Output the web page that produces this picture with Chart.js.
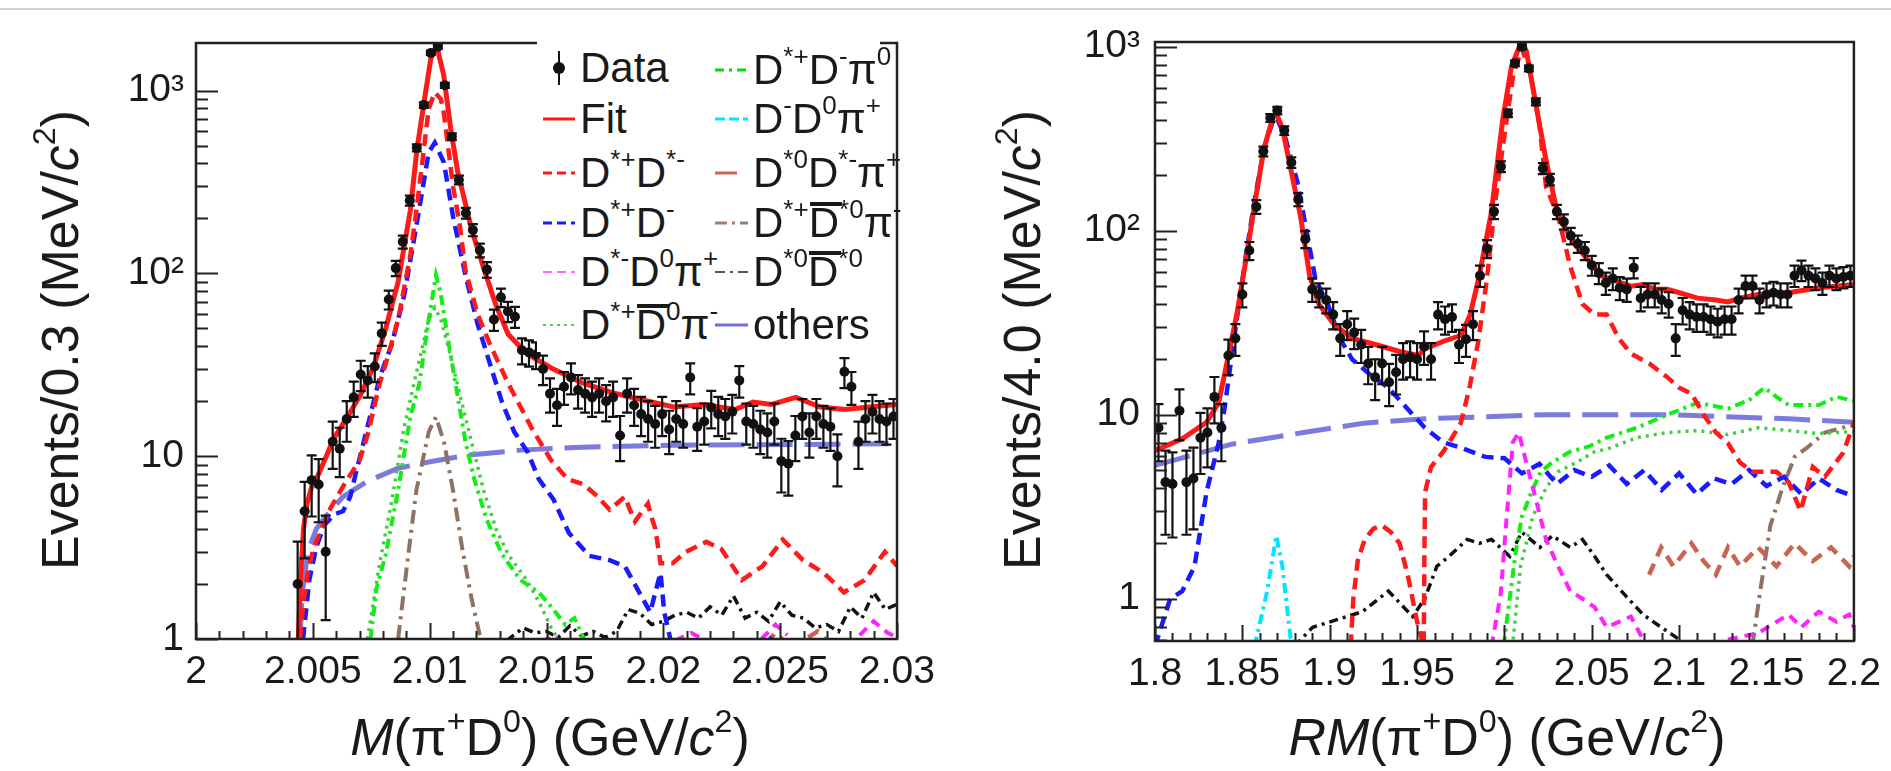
<!DOCTYPE html>
<html>
<head>
<meta charset="utf-8">
<title>pi+ D0 mass spectra</title>
<script src="https://cdn.jsdelivr.net/npm/chart.js@4.4.1/dist/chart.umd.min.js"></script>
<style>
  html, body { margin: 0; padding: 0; background: #fff; }
  body { position: relative; width: 1891px; height: 771px; overflow: hidden;
         font-family: "Liberation Sans", Arial, Helvetica, sans-serif; color: #1a1a1a; }
  canvas { position: absolute; top: 0; }
  #massChart { left: 0; }
  #recoilChart { left: 945px; }
  .rule { position: absolute; left: 0; top: 8px; width: 1891px; height: 2px; background: #d0d0d0; }
  .title { position: absolute; font-size: 52px; white-space: nowrap; line-height: 1; }
  .xtitle { transform: translate(-50%, -50%); }
  .ytitle { transform: translate(-50%, -50%) rotate(-90deg); }
  sup { font-size: 0.62em; line-height: 0; vertical-align: 0.72em; }
  #legend { position: absolute; left: 537px; top: 34px; width: 343px; height: 318px; background: #fff; }
  #legend svg { position: absolute; left: 0; top: 0; }
  .entry { position: absolute; font-size: 42px; line-height: 1; white-space: nowrap; transform: translateY(-50%); }
  .bar { position: relative; }
  .bar::before { content: ""; position: absolute; left: 0.02em; right: -0.06em; top: 0.06em; height: 0.1em; background: #1a1a1a; }
</style>
</head>
<body>
<div class="rule"></div>
<canvas id="massChart" width="945" height="771"></canvas>
<canvas id="recoilChart" width="946" height="771"></canvas>

<div id="legend">
  <svg width="343" height="318">
    <line x1="22" y1="17" x2="22" y2="51" stroke="#111" stroke-width="2"/>
    <circle cx="22" cy="34" r="6" fill="#111"/>
    <line x1="6" y1="85" x2="38" y2="85" stroke="#ff1a1a" stroke-width="3"/>
    <line x1="6" y1="139" x2="38" y2="139" stroke="#ff1a1a" stroke-width="3" stroke-dasharray="9 5"/>
    <line x1="6" y1="189" x2="38" y2="189" stroke="#1a1aff" stroke-width="3" stroke-dasharray="9 5"/>
    <line x1="6" y1="238" x2="38" y2="238" stroke="#ff66ff" stroke-width="2" stroke-dasharray="9 5"/>
    <line x1="6" y1="291" x2="38" y2="291" stroke="#55cc55" stroke-width="2" stroke-dasharray="3 4"/>
    <line x1="178" y1="36" x2="211" y2="36" stroke="#00dd00" stroke-width="3" stroke-dasharray="9 5 3 5"/>
    <line x1="178" y1="85" x2="211" y2="85" stroke="#00e5ff" stroke-width="3" stroke-dasharray="10 4"/>
    <line x1="178" y1="139" x2="200" y2="139" stroke="#c8644f" stroke-width="3"/>
    <line x1="178" y1="189" x2="211" y2="189" stroke="#9b7f6e" stroke-width="3" stroke-dasharray="12 5 3 5"/>
    <line x1="178" y1="238" x2="211" y2="238" stroke="#555" stroke-width="2" stroke-dasharray="10 5 3 5"/>
    <line x1="178" y1="291" x2="211" y2="291" stroke="#6f6fdc" stroke-width="3"/>
  </svg>
  <div class="entry" style="left:43px;top:34px">Data</div>
  <div class="entry" style="left:43px;top:85px">Fit</div>
  <div class="entry" style="left:43px;top:139px">D<sup>*+</sup>D<sup>*-</sup></div>
  <div class="entry" style="left:43px;top:189px">D<sup>*+</sup>D<sup>-</sup></div>
  <div class="entry" style="left:43px;top:238px">D<sup>*-</sup>D<sup>0</sup>π<sup>+</sup></div>
  <div class="entry" style="left:43px;top:291px">D<sup>*+</sup><span class="bar">D</span><sup>0</sup>π<sup>-</sup></div>
  <div class="entry" style="left:216px;top:36px">D<sup>*+</sup>D<sup>-</sup>π<sup>0</sup></div>
  <div class="entry" style="left:216px;top:85px">D<sup>-</sup>D<sup>0</sup>π<sup>+</sup></div>
  <div class="entry" style="left:216px;top:139px">D<sup>*0</sup>D<sup>*-</sup>π<sup>+</sup></div>
  <div class="entry" style="left:216px;top:189px">D<sup>*+</sup><span class="bar">D</span><sup>*0</sup>π<sup>-</sup></div>
  <div class="entry" style="left:216px;top:238px">D<sup>*0</sup><span class="bar">D</span><sup>*0</sup></div>
  <div class="entry" style="left:216px;top:291px">others</div>
</div>

<div class="title xtitle" style="left:550px;top:737px"><i>M</i>(π<sup>+</sup>D<sup>0</sup>) (GeV/<i>c</i><sup>2</sup>)</div>
<div class="title xtitle" style="left:1507px;top:737px"><i>RM</i>(π<sup>+</sup>D<sup>0</sup>) (GeV/<i>c</i><sup>2</sup>)</div>
<div class="title ytitle" style="left:60px;top:340px">Events/0.3 (MeV/<i>c</i><sup>2</sup>)</div>
<div class="title ytitle" style="left:1022px;top:340px">Events/4.0 (MeV/<i>c</i><sup>2</sup>)</div>

<script>
// ---------- left: M(pi+ D0), bins of 0.3 MeV ----------
const massBinStart = 2.00435;
const massBinWidth = 0.0003;
const massCounts = [
  2, 5, 7.4, 7, 3, 12, 11, 16, 21, 28,
  26, 31, 47, 72, 107, 149, 251, 487, 834, 1610,
  1740, 1070, 560, 325, 214, 173, 134, 105, 56, 74,
  62, 58, 38, 37, 36, 30, 22, 19, 24, 27,
  23, 22, 21, 22, 20, 21, 13, 22, 19, 17,
  16, 15, 17, 14, 16, 15, 27, 14.5, 15.5, 18.5,
  17, 16.5, 17.5, 26, 15.5, 15, 14, 13.5, 15.5, 9.4,
  9.1, 13, 16.5, 13.5, 16.5, 15, 14.5, 10, 29, 24,
  12, 16, 17.5, 16, 15.5, 16.5
];
const massXTicks = [2, 2.005, 2.01, 2.015, 2.02, 2.025, 2.03];
const massXLabels = ["2", "2.005", "2.01", "2.015", "2.02", "2.025", "2.03"];

const massFit = [[2.00438,1],[2.00448,2.2],[2.0046,4],[2.00475,5.5],[2.00495,6.8],[2.00525,8],[2.0059,12.5],[2.00655,17],[2.00707,22],[2.0076,31],[2.00812,50],[2.00865,90],[2.00917,220],[2.00945,470],[2.00975,850],[2.01005,1500],[2.0103,1760],[2.0106,1220],[2.0109,620],[2.0112,360],[2.0115,250],[2.01179,175],[2.01231,107],[2.01284,67],[2.01336,46.5],[2.01415,36.5],[2.0152,30.4],[2.0165,25.3],[2.01781,22.3],[2.01912,20.3],[2.02044,18.6],[2.02174,19.2],[2.02306,18],[2.02384,19.8],[2.02463,19.2],[2.02567,21],[2.02672,18.6],[2.02777,18],[2.02882,18.6],[2.03,19.2]];
const massDstDst = [[2.00445,1],[2.0046,1.6],[2.0048,2.4],[2.00505,3.2],[2.0053,3.8],[2.00568,5],[2.00634,7],[2.007,9.5],[2.00734,13],[2.0076,18],[2.00786,25],[2.00812,32],[2.00838,42],[2.00865,56],[2.00917,125],[2.00943,220],[2.0097,420],[2.00996,800],[2.01022,980],[2.01048,900],[2.01061,750],[2.0108,480],[2.011,300],[2.0113,180],[2.01153,104],[2.01205,60],[2.01258,41],[2.01336,25],[2.01389,18.6],[2.0144,14],[2.0152,9.5],[2.0159,7.5],[2.0166,7],[2.0172,6],[2.0177,5.1],[2.018,5.5],[2.01835,6],[2.0186,5],[2.01879,4.4],[2.019,4.8],[2.01934,5.5],[2.0195,4.6],[2.01966,4],[2.01988,2.6],[2.0204,2.6],[2.02097,3],[2.02184,3.4],[2.02249,3.1],[2.02336,2.1],[2.02424,2.5],[2.02511,3.5],[2.02598,2.7],[2.02686,2.3],[2.02773,1.8],[2.02861,2.1],[2.02948,3],[2.0299,2.6],[2.03,2.5]];
const massDstD = [[2.00458,1],[2.00485,2.1],[2.00515,3.2],[2.0055,4.2],[2.0059,4.8],[2.00629,5],[2.0066,6],[2.00681,7.8],[2.00734,14.5],[2.00786,27],[2.00838,41],[2.00891,76],[2.00943,182],[2.00996,460],[2.01022,520],[2.01061,405],[2.011,205],[2.01153,98],[2.01205,53],[2.01258,32],[2.0131,19.7],[2.01362,13.6],[2.0142,10.5],[2.01467,7.5],[2.0153,5.8],[2.01596,3.8],[2.01683,2.85],[2.0177,2.7],[2.01835,2.5],[2.01868,2.1],[2.01944,1.4],[2.01975,2],[2.01988,2.3],[2.02004,1.4],[2.0203,1],[2.0206,0.8],[2.0207,null],[2.0244,0.9],[2.0247,1.05],[2.025,0.9]];
const massDstmD0pi = [[2.0148,0.95],[2.0152,1.05],[2.0156,0.97],[2.0157,null],[2.0205,0.98],[2.0212,1.08],[2.0218,0.98],[2.0219,null],[2.0242,1.0],[2.0248,1.2],[2.0253,1.05],[2.0254,null],[2.0284,1.05],[2.029,1.25],[2.0296,1.08],[2.03,1.02]];
const massDstD0barpi = [[2.00734,1],[2.00786,2.6],[2.00838,5.7],[2.00891,14.5],[2.00943,28.5],[2.00996,56],[2.01022,65],[2.01048,56],[2.01087,36.6],[2.01127,22.3],[2.01179,12],[2.01231,6.5],[2.01284,4],[2.01336,2.9],[2.01415,2.1],[2.01467,1.6],[2.0152,1.15],[2.0155,1]];
const massDstDpi0 = [[2.00747,1],[2.00773,1.9],[2.00812,2.9],[2.00865,6.5],[2.00917,16.4],[2.00956,25],[2.00996,56],[2.01027,98],[2.01048,77],[2.01074,47],[2.01113,24],[2.01153,12],[2.01192,7.4],[2.01244,4.5],[2.0131,2.9],[2.01389,2.1],[2.01467,1.8],[2.0152,1.5],[2.0158,1.2],[2.0162,1.3],[2.0166,1]];
const massDst0Dstpi = [[2.0244,0.95],[2.0248,1.08],[2.0252,0.97],[2.0253,null],[2.0262,1.02],[2.0266,1.1],[2.027,0.98]];
const massDstDst0barpi = [[2.00865,1],[2.00904,2.6],[2.00943,6.5],[2.00996,13.6],[2.01027,16.4],[2.01061,12],[2.011,6.5],[2.0114,3.1],[2.01179,1.67],[2.01218,1]];
const massDst0Dst0bar = [[2.0133,0.98],[2.0136,1.05],[2.014,1.15],[2.0145,1.08],[2.015,1.1],[2.0155,1.02],[2.016,1.18],[2.0165,1.04],[2.017,1.1],[2.0175,1.02],[2.018,1.1],[2.0185,1.45],[2.019,1.38],[2.0195,1.2],[2.02,1.25],[2.0205,1.35],[2.021,1.4],[2.0215,1.3],[2.022,1.5],[2.0225,1.35],[2.023,1.72],[2.0235,1.3],[2.024,1.4],[2.0245,1.25],[2.025,1.6],[2.0255,1.35],[2.026,1.3],[2.0265,1.15],[2.027,1.2],[2.0275,1.1],[2.028,1.5],[2.0285,1.3],[2.029,1.8],[2.0295,1.45],[2.03,1.55]];
const massOthers = [[2.00445,1],[2.00455,1.8],[2.00472,2.6],[2.0049,3.3],[2.00515,4],[2.0055,4.6],[2.00629,6],[2.00734,7.3],[2.00865,8.6],[2.00996,9.3],[2.01153,10.1],[2.01389,10.8],[2.0165,11.2],[2.02044,11.5],[2.02567,11.6],[2.03,11.7]];

// ---------- right: RM(pi+ D0), bins of 4 MeV ----------
const recoilBinStart = 1.802;
const recoilBinWidth = 0.004;
const recoilCounts = [
  8.5, 4.3, 4.2, 10.5, 4.3, 4.5, 7.5, 8, 12.5, 8.5,
  21, 26, 45, 78, 135, 270, 410, 450, 350, 235,
  148, 90, 48, 45, 42, 35, 26, 31, 28, 24,
  19, 16, 19, 15, 17, 20, 20.5, 20, 23.5, 20,
  35, 33, 34, 24, 25.7, 31, 57, 80, 127, 223,
  435, 812, 1000, 763, 502, 218, 190, 127, 112, 94,
  85, 78, 65, 59, 52, 55, 49, 48, 63, 43,
  45, 45, 42, 40, 26, 37, 35, 34, 34, 33,
  32, 33, 33, 42, 50, 50, 42, 45, 46, 45,
  45, 57, 61, 57, 55, 52, 57, 55, 56, 57
];
const recoilXTicks = [1.8, 1.85, 1.9, 1.95, 2, 2.05, 2.1, 2.15, 2.2];
const recoilXLabels = ["1.8", "1.85", "1.9", "1.95", "2", "2.05", "2.1", "2.15", "2.2"];

const recoilFit = [[1.8,6.4],[1.8156,7.4],[1.8295,9.1],[1.8364,11.6],[1.8416,20],[1.8468,35],[1.852,69],[1.8573,144],[1.8625,283],[1.8677,420],[1.8697,430],[1.8729,360],[1.8781,208],[1.8833,120],[1.8885,57],[1.8937,40],[1.9024,31],[1.9128,26],[1.9266,24],[1.9405,22],[1.9509,21],[1.9544,22.8],[1.9648,25],[1.9752,27],[1.9804,35],[1.9856,57],[1.9924,124],[1.999,400],[2.004,780],[2.0085,1000],[2.0105,1040],[2.0125,950],[2.0162,606],[2.02,380],[2.0238,242],[2.0295,135],[2.0342,105],[2.0412,82],[2.0481,69],[2.055,57],[2.062,54],[2.0724,50],[2.0793,51],[2.0863,48],[2.0932,48],[2.1001,46],[2.1105,43],[2.121,42],[2.1279,41],[2.1348,43],[2.1452,45],[2.1626,46],[2.1799,49],[2.2,51]];
const recoilDstDst = [[1.912,0.55],[1.9135,1.0],[1.916,1.6],[1.92,2.1],[1.925,2.4],[1.93,2.5],[1.935,2.3],[1.94,2.0],[1.945,1.3],[1.95,0.75],[1.9538,0.55],[1.9542,1.8],[1.9546,3.8],[1.958,5.2],[1.965,6.3],[1.97,7.5],[1.975,9],[1.98,14],[1.985,25],[1.99,55],[1.995,150],[2.0,330],[2.005,700],[2.01,980],[2.015,700],[2.02,380],[2.0238,173],[2.0307,120],[2.0377,64],[2.0446,40],[2.0516,35],[2.0585,35],[2.0654,26],[2.0724,21.5],[2.0828,19],[2.0932,16],[2.1001,14],[2.1071,13],[2.114,10],[2.121,8],[2.1279,7],[2.1348,5.5],[2.1418,4.9],[2.1557,4.9],[2.1626,4.3],[2.1695,3],[2.1765,5.2],[2.1834,4.6],[2.1938,6.2],[2.2,9]];
const recoilDstD = [[1.8,0.55],[1.8087,1],[1.8156,1.1],[1.8226,1.5],[1.8295,3.8],[1.8364,7],[1.8399,11],[1.8468,33],[1.852,73],[1.8573,153],[1.8625,283],[1.8677,400],[1.8697,410],[1.8746,320],[1.8815,184],[1.8867,100],[1.8919,54],[1.8989,40],[1.9058,26],[1.9128,20],[1.9232,16.5],[1.9336,14],[1.944,10.9],[1.9544,8.5],[1.9648,7.1],[1.9752,6.6],[1.9891,5.9],[2.0,5.8],[2.01,4.8],[2.02,5.4],[2.03,4.2],[2.04,5],[2.05,4.6],[2.06,5.3],[2.07,4.2],[2.08,5],[2.09,3.9],[2.1,4.8],[2.11,3.7],[2.12,4.5],[2.13,4.2],[2.14,5],[2.15,4.1],[2.16,4.6],[2.17,3.7],[2.18,4.5],[2.19,3.9],[2.2,3.6]];
const recoilDstmD0pi = [[1.9926,0.55],[1.9978,1.05],[2.0013,2.8],[2.0048,7.1],[2.0082,8],[2.0117,5.9],[2.0169,3.8],[2.0238,2.1],[2.0307,1.5],[2.0377,1.1],[2.0446,1.0],[2.0516,0.9],[2.0585,0.7],[2.0724,0.8],[2.0793,0.6],[2.085,0.55],[2.09,null],[2.1279,0.6],[2.1452,0.65],[2.1626,0.82],[2.17,0.7],[2.1799,0.85],[2.19,0.75],[2.1973,0.82],[2.2,0.7]];
const recoilDstD0barpi = [[2.005,0.6],[2.0092,1.5],[2.0162,2.8],[2.0238,4],[2.0307,4.9],[2.0412,5.5],[2.0516,6.3],[2.0585,6.5],[2.0759,7.5],[2.0932,8],[2.1105,8.2],[2.1279,7.8],[2.1452,8.5],[2.1626,8.2],[2.1799,7.9],[2.2,8.1]];
const recoilDstDpi0 = [[1.9995,0.55],[2.003,1.0],[2.0065,1.8],[2.01,2.8],[2.0155,3.8],[2.0207,4.9],[2.0273,5.5],[2.0377,6.3],[2.0481,6.7],[2.0585,7.5],[2.0759,8.5],[2.0932,10],[2.1105,11.6],[2.1279,10.8],[2.14,12],[2.1487,14],[2.1557,12.5],[2.1626,11.3],[2.1799,11.3],[2.19,12.5],[2.2,11.9]];
const recoilDmD0pi = [[1.857,0.55],[1.8642,1.1],[1.8694,2.2],[1.8729,1.5],[1.8781,0.55]];
const recoilDst0Dstpi = [[2.0828,1.35],[2.0897,1.9],[2.0967,1.5],[2.107,2.0],[2.114,1.6],[2.121,1.35],[2.1279,1.9],[2.1348,1.5],[2.1452,1.9],[2.1557,1.5],[2.1661,2.0],[2.1765,1.6],[2.1869,1.9],[2.1973,1.5],[2.2,1.7]];
const recoilDstDst0barpi = [[2.1418,0.55],[2.147,1.2],[2.1522,2.5],[2.1591,4],[2.1661,5.9],[2.173,6.6],[2.1834,8],[2.1938,8.5],[2.2,9.1]];
const recoilDst0Dst0bar = [[1.8798,0.55],[1.8902,0.7],[1.9006,0.75],[1.9187,0.85],[1.9336,1.1],[1.9475,0.8],[1.9544,1.0],[1.9613,1.5],[1.9683,1.7],[1.9787,2.1],[1.9856,2.0],[1.9926,2.1],[2.003,1.7],[2.0099,2.3],[2.0203,1.9],[2.0273,2.2],[2.0377,1.9],[2.0446,2.1],[2.0516,1.7],[2.0585,1.35],[2.0689,1.05],[2.0793,0.82],[2.0897,0.7],[2.1001,0.6]];
const recoilOthers = [[1.8,5.3],[1.8434,6.9],[1.885,8],[1.9197,9],[1.9544,9.5],[2.0238,10],[2.0932,10],[2.1626,9.5],[2.2,9.1]];

// y axis labels (both panels)
const yTickValues = [1, 10, 100, 1000];
const yTickLabels = ["1", "10", "10²", "10³"];

Chart.defaults.font.family = '"Liberation Sans", Arial, Helvetica, sans-serif';
Chart.defaults.color = "#1a1a1a";

// data points with sqrt(N) bars
const histogram = (start, width, counts) => ({
  data: counts.map((c, i) => ({ x: start + i * width, y: c })),
  errors: counts.map((c) => Math.sqrt(c)),
  showLine: false,
  pointRadius: 5,
  pointBackgroundColor: "#111",
  pointBorderWidth: 0,
  clip: 0,
});

const curve = (pairs, color, width, dash) => ({
  data: pairs.map((p) => ({ x: p[0], y: p[1] })),
  borderColor: color,
  borderWidth: width,
  borderDash: dash || [],
  pointRadius: 0,
  tension: 0,
  fill: false,
  spanGaps: false,
  clip: 0,
});

// vertical error bars with small caps
const errorBars = {
  id: "errorBars",
  afterDatasetDraw(chart, args) {
    const ds = chart.data.datasets[args.index];
    if (!ds.errors) return;
    const { ctx, chartArea: a, scales } = chart;
    const x = scales.x, y = scales.y;
    ctx.save();
    ctx.beginPath();
    ctx.rect(a.left, a.top, a.right - a.left, a.bottom - a.top);
    ctx.clip();
    ctx.strokeStyle = "#111";
    ctx.lineWidth = 2.2;
    ctx.beginPath();
    ds.data.forEach((p, i) => {
      const e = ds.errors[i];
      const px = x.getPixelForValue(p.x);
      const y1 = y.getPixelForValue(Math.max(p.y - e, y.min * 0.5));
      const y2 = y.getPixelForValue(p.y + e);
      ctx.moveTo(px, y1); ctx.lineTo(px, y2);
      ctx.moveTo(px - 5, y1); ctx.lineTo(px + 5, y1);
      ctx.moveTo(px - 5, y2); ctx.lineTo(px + 5, y2);
    });
    ctx.stroke();
    ctx.restore();
  },
};

// box frame plus inward tick marks on the left and bottom edges
const frameTicks = {
  id: "frameTicks",
  afterDraw(chart, args, opts) {
    const { ctx, chartArea: a, scales } = chart;
    const x = scales.x, y = scales.y;
    ctx.save();
    ctx.strokeStyle = "#222";
    ctx.lineWidth = 2;
    ctx.beginPath();
    for (let e = -1; e <= 3; e++) {
      for (let m = 1; m <= 9; m++) {
        const v = m * Math.pow(10, e);
        if (v < y.min || v > y.max) continue;
        const py = Math.round(y.getPixelForValue(v)) + 0.5;
        const len = m === 1 ? 22 : 12;
        ctx.moveTo(a.left, py);
        ctx.lineTo(a.left + len, py);
      }
    }
    const n = Math.round((x.max - x.min) / opts.minor);
    for (let k = 0; k <= n; k++) {
      const px = Math.round(x.getPixelForValue(x.min + k * opts.minor)) + 0.5;
      const len = k % opts.every === 0 ? 16 : 8;
      ctx.moveTo(px, a.bottom);
      ctx.lineTo(px, a.bottom - len);
    }
    ctx.stroke();
    ctx.lineWidth = 2.5;
    ctx.strokeRect(a.left, a.top, a.right - a.left, a.bottom - a.top);
    ctx.restore();
  },
};

function buildChart(id, datasets, p) {
  return new Chart(document.getElementById(id), {
    type: "line",
    data: { datasets: datasets },
    options: {
      responsive: false,
      animation: false,
      devicePixelRatio: 1,
      layout: { padding: { left: 0, top: p.top, right: p.right, bottom: 0 } },
      plugins: {
        legend: { display: false },
        tooltip: { enabled: false },
        frameTicks: { minor: p.minor, every: p.every },
      },
      scales: {
        x: {
          type: "linear",
          min: p.xMin,
          max: p.xMax,
          grid: { display: false, drawTicks: false },
          border: { display: false },
          afterBuildTicks: (s) => { s.ticks = p.xTicks.map((v) => ({ value: v })); },
          afterFit: (s) => { s.height = p.xAxisHeight; },
          ticks: {
            autoSkip: false,
            maxRotation: 0,
            padding: 10,
            font: { size: 39 },
            callback: (v) => { const i = p.xTicks.indexOf(v); return i < 0 ? "" : p.xLabels[i]; },
          },
        },
        y: {
          type: "logarithmic",
          min: p.yMin,
          max: p.yMax,
          grid: { display: false, drawTicks: false },
          border: { display: false },
          afterBuildTicks: (s) => {
            s.ticks = yTickValues.filter((v) => v >= p.yMin && v <= p.yMax).map((v) => ({ value: v }));
          },
          afterFit: (s) => { s.width = p.yAxisWidth; },
          ticks: {
            autoSkip: false,
            padding: p.yPad,
            font: { size: 39 },
            callback: (v) => { const i = yTickValues.indexOf(v); return i < 0 ? "" : yTickLabels[i]; },
          },
        },
      },
    },
    plugins: [errorBars, frameTicks],
  });
}

// components share the same colours and line styles in both panels
const styles = {
  fit: ["#ff1a1a", 5, []],
  dstDst: ["#ff1a1a", 4.5, [12, 7]],
  dstD: ["#1a1aff", 4.5, [12, 7]],
  dstmD0pi: ["#ff22ff", 4, [10, 7]],
  dstD0barpi: ["#44cc44", 3.5, [3, 5]],
  dstDpi0: ["#11ee11", 4, [10, 5, 3, 5]],
  dmD0pi: ["#00e5ff", 4, [10, 5, 3, 5]],
  dst0Dstpi: ["#c8644f", 4.5, [12, 8]],
  dstDst0barpi: ["#8f7262", 4, [14, 6, 3, 6]],
  dst0Dst0bar: ["#111", 3.5, [9, 5, 3, 5]],
  others: ["rgba(100,100,215,0.85)", 5, [36, 12]],
};
const c = (pairs, key) => curve(pairs, styles[key][0], styles[key][1], styles[key][2]);

buildChart("massChart", [
  histogram(massBinStart, massBinWidth, massCounts),
  c(massFit, "fit"),
  c(massDstDst, "dstDst"),
  c(massDstD, "dstD"),
  c(massDstmD0pi, "dstmD0pi"),
  c(massDstD0barpi, "dstD0barpi"),
  c(massDstDpi0, "dstDpi0"),
  c(massDst0Dstpi, "dst0Dstpi"),
  c(massDstDst0barpi, "dstDst0barpi"),
  c(massDst0Dst0bar, "dst0Dst0bar"),
  c(massOthers, "others"),
], {
  xMin: 2, xMax: 2.03, xTicks: massXTicks, xLabels: massXLabels,
  yMin: 1, yMax: 1824,
  top: 43, right: 48, xAxisHeight: 132, yAxisWidth: 196, yPad: 12,
  minor: 0.001, every: 5,
});

buildChart("recoilChart", [
  histogram(recoilBinStart, recoilBinWidth, recoilCounts),
  c(recoilFit, "fit"),
  c(recoilDstDst, "dstDst"),
  c(recoilDstD, "dstD"),
  c(recoilDstmD0pi, "dstmD0pi"),
  c(recoilDstD0barpi, "dstD0barpi"),
  c(recoilDstDpi0, "dstDpi0"),
  c(recoilDmD0pi, "dmD0pi"),
  c(recoilDst0Dstpi, "dst0Dstpi"),
  c(recoilDstDst0barpi, "dstDst0barpi"),
  c(recoilDst0Dst0bar, "dst0Dst0bar"),
  c(recoilOthers, "others"),
], {
  xMin: 1.8, xMax: 2.2, xTicks: recoilXTicks, xLabels: recoilXLabels,
  yMin: 0.589, yMax: 1061,
  top: 42, right: 36, xAxisHeight: 130, yAxisWidth: 210, yPad: 15,
  minor: 0.01, every: 5,
});
</script>
</body>
</html>
